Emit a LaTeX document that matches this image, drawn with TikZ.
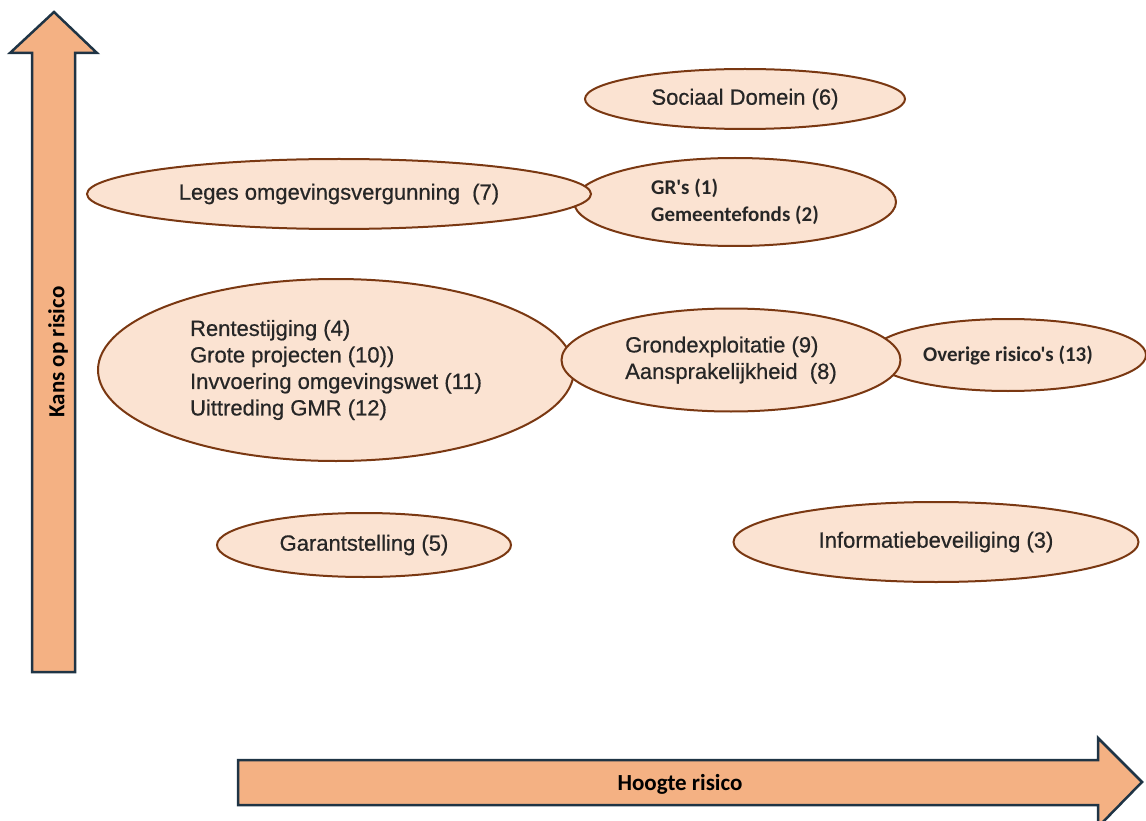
\documentclass[tikz,border=0pt]{standalone}
\usepackage{fontspec}
\setmainfont{Liberation Sans}[FakeBold=0.6]
\newfontfamily\calfont{Carlito}
\usepackage{tikz}
\usetikzlibrary{shapes.geometric}
\definecolor{arrowfill}{HTML}{F4B183}
\definecolor{arrowline}{HTML}{1F3445}
\definecolor{ovalfill}{HTML}{FBE3D2}
\definecolor{ovalline}{HTML}{7A3812}
\definecolor{ovaltext}{HTML}{262626}

\begin{document}
\begin{tikzpicture}[x = 1pt, y = -1pt,
    oval/.style = {ellipse, draw = ovalline, fill = ovalfill, line width = 2pt, text = ovaltext,
      inner sep = 0pt, align = left, font = {\fontsize{22}{26.5}\selectfont}},
    calib/.style = {font = {\calfont\bfseries\fontsize{21}{27}\selectfont}},
    axisarrow/.style = {draw = arrowline, fill = arrowfill, line width = 2.5pt, line join = miter},
    axislabel/.style = {font = {\calfont\bfseries\fontsize{23}{27}\selectfont}}]
      \useasboundingbox (0, 0) rectangle (1146, 821);
      \draw [axisarrow] (32, 672) -- (32, 53) -- (10, 53) -- (54, 12) -- (97, 53) -- (75, 53) -- (75, 672) -- cycle;
      \draw [axisarrow] (238, 760) -- (1098, 760) -- (1098, 738) -- (1142, 782) -- (1098, 827) -- (1098, 805) -- (238, 805) -- cycle;
      \node [axislabel, rotate = 90] (kans) at (58, 352) {Kans op risico};
      \node [axislabel] (hoogte) at (680, 784) {Hoogte risico};
      \node [oval, minimum width = 320pt, minimum height = 60pt] (sociaal) at (745, 99) {Sociaal Domein (6)};
      \node [oval, calib, minimum width = 322pt, minimum height = 88pt] (grs) at (735, 202) {GR's (1)\\Gemeentefonds (2)};
      \node [oval, minimum width = 504pt, minimum height = 70pt] (leges) at (339, 194) {Leges omgevingsvergunning\ \ (7)};
      \node [oval, minimum width = 476pt, minimum height = 182pt] (rente) at (336, 370) {Rentestijging (4)\\Grote projecten (10))\\Invvoering omgevingswet (11)\\Uittreding GMR (12)};
      \node [oval, calib, minimum width = 276pt, minimum height = 72pt] (overig) at (1008, 355) {Overige risico's (13)};
      \node [oval, minimum width = 339pt, minimum height = 103pt] (grond) at (731, 360) {Grondexploitatie (9)\\Aansprakelijkheid\ \ (8)};
      \node [oval, minimum width = 294pt, minimum height = 64pt] (garant) at (364, 545) {Garantstelling (5)};
      \node [oval, minimum width = 405pt, minimum height = 80pt] (info) at (936, 542) {Informatiebeveiliging (3)};
\end{tikzpicture}
\end{document}
